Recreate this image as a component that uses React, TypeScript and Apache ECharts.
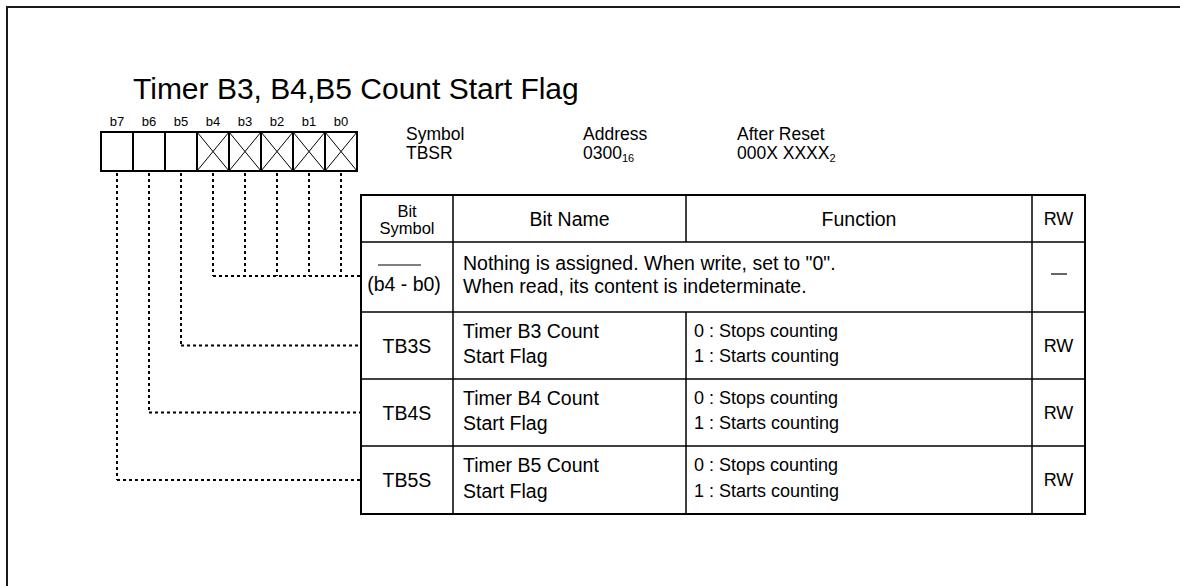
import React, { useEffect, useRef } from "react";
import * as echarts from "echarts";

const TITLE = "Timer B3, B4,B5 Count Start Flag";
const BIT_LABELS = ["b7", "b6", "b5", "b4", "b3", "b2", "b1", "b0"];
const BIT_RESERVED = [false, false, false, true, true, true, true, true];
const BIT_ROW = [3, 2, 1, 0, 0, 0, 0, 0];
const HEADER_LABELS = ["Symbol", "Address", "After Reset"];
const HEADER_VALUES = ["TBSR", "0300", "000X XXXX"];
const HEADER_SUBS = ["", "16", "2"];
const COLUMN_TITLES = [["Bit", "Symbol"], ["Bit Name"], ["Function"], ["RW"]];
const ROW_SYMBOLS = ["(b4 - b0)", "TB3S", "TB4S", "TB5S"];
const ROW_NAMES = [
  ["Nothing is assigned. When write, set to \"0\".", "When read, its content is indeterminate."],
  ["Timer B3 Count", "Start Flag"],
  ["Timer B4 Count", "Start Flag"],
  ["Timer B5 Count", "Start Flag"],
];
const ROW_FUNCTIONS = [
  [],
  ["0 : Stops counting", "1 : Starts counting"],
  ["0 : Stops counting", "1 : Starts counting"],
  ["0 : Stops counting", "1 : Starts counting"],
];
const ROW_RW = ["", "RW", "RW", "RW"];

const FONT = "'Liberation Sans', Arial, Helvetica, sans-serif";

export default function App() {
  const ref = useRef<HTMLDivElement>(null);
  useEffect(() => {
    if (!ref.current) return;
    const chart = echarts.init(ref.current, undefined, { renderer: "svg" });
    const els: any[] = [];
    const txt = (x: number, y: number, text: string, size: number, align = "left") => {
      els.push({
        type: "text",
        x,
        y,
        z: 3,
        style: {
          text,
          fontSize: size,
          fontFamily: FONT,
          fill: "#000",
          align,
          verticalAlign: "middle",
          textAlign: align,
          textVerticalAlign: "middle",
        },
      });
    };
    const line = (x1: number, y1: number, x2: number, y2: number, w = 1.5, dash?: number[], z = 3) => {
      els.push({
        type: "line",
        z,
        shape: { x1, y1, x2, y2 },
        style: { stroke: "#000", lineWidth: w, lineDash: dash },
      });
    };

    // outer frame
    els.push({
      type: "rect",
      shape: { x: 7, y: 7, width: 1300, height: 800 },
      style: { fill: "none", stroke: "#1a1a1a", lineWidth: 2 },
    });

    // title
    txt(133, 88, TITLE, 30);

    // bit boxes
    const bx = 101, by = 132, bw = 32, bh = 39;
    BIT_LABELS.forEach((lab, i) => {
      const x = bx + i * bw;
      txt(x + bw / 2, 121, lab, 13, "center");
      els.push({
        type: "rect",
        shape: { x, y: by, width: bw, height: bh },
        style: { fill: "none", stroke: "#000", lineWidth: 2 },
      });
      if (BIT_RESERVED[i]) {
        line(x, by, x + bw, by + bh, 1);
        line(x + bw, by, x, by + bh, 1);
      }
    });

    // table geometry
    const cols = [361, 453, 686, 1032, 1085];
    const rows = [195, 242, 312, 379, 446, 514];
    const tl = cols[0], tr = cols[cols.length - 1];

    // dotted connectors
    const rowCenter = (r: number) => (rows[r + 1] + rows[r + 2]) / 2;
    const yFor = (r: number) => (r === 0 ? 276 : rowCenter(r));
    BIT_LABELS.forEach((_, i) => {
      const cx = bx + i * bw + bw / 2;
      line(cx, by + bh + 2, cx, yFor(BIT_ROW[i]), 2, [3, 3], 0);
    });
    [0, 1, 2, 3].forEach((r) => {
      const i = BIT_ROW.indexOf(r);
      const cx = bx + i * bw + bw / 2;
      line(cx, yFor(r), tl, yFor(r), 2, [3, 3], 0);
    });

    // header info
    const hx = [406, 583, 737];
    HEADER_LABELS.forEach((lab, i) => {
      txt(hx[i], 134, lab, 17.5);
      els.push({
        type: "text",
        x: hx[i],
        y: 153,
        style: {
          text: `{a|${HEADER_VALUES[i]}}` + (HEADER_SUBS[i] ? `{s|${HEADER_SUBS[i]}}` : ""),
          fontFamily: FONT,
          fill: "#000",
          align: "left",
          verticalAlign: "middle",
          textAlign: "left",
          textVerticalAlign: "middle",
          rich: {
            a: { fontSize: 17.5, lineHeight: 20, fontFamily: FONT, fill: "#000" },
            s: { fontSize: 11, lineHeight: 11, fontFamily: FONT, fill: "#000", verticalAlign: "bottom" },
          },
        },
      });
    });

    // table borders
    els.push({
      type: "rect",
      z: 1,
      shape: { x: tl, y: rows[0], width: tr - tl, height: rows[rows.length - 1] - rows[0] },
      style: { fill: "#fff", stroke: "#000", lineWidth: 2 },
    });
    const last = rows[rows.length - 1];
    for (let r = 1; r < rows.length - 1; r++) line(tl, rows[r], tr, rows[r], 1.5, undefined, 2);
    line(cols[1], rows[0], cols[1], last, 1.5, undefined, 2);
    line(cols[3], rows[0], cols[3], last, 1.5, undefined, 2);
    line(cols[2], rows[0], cols[2], rows[1], 1.5, undefined, 2);
    line(cols[2], rows[2], cols[2], last, 1.5, undefined, 2);

    // column titles
    const hy = (rows[0] + rows[1]) / 2;
    const symX = (cols[0] + cols[1]) / 2;
    txt(symX, 210.5, COLUMN_TITLES[0][0], 16.5, "center");
    txt(symX, 228, COLUMN_TITLES[0][1], 16.5, "center");
    txt((cols[1] + cols[2]) / 2, hy, COLUMN_TITLES[1][0], 19.5, "center");
    txt((cols[2] + cols[3]) / 2, hy, COLUMN_TITLES[2][0], 19.5, "center");
    txt((cols[3] + cols[4]) / 2, hy, COLUMN_TITLES[3][0], 18, "center");

    // rows
    ROW_SYMBOLS.forEach((sym, r) => {
      const cy = rowCenter(r);
      if (r === 0) {
        txt(symX - 3, 284, sym, 19.5, "center");
        line(378, 265, 421, 265, 1);
        txt(cols[1] + 10, 263, ROW_NAMES[r][0], 19.5);
        txt(cols[1] + 10, 286, ROW_NAMES[r][1], 19.5);
        line(1051, 274, 1067, 274, 1.2);
      } else {
        txt(symX, cy, sym, 19.5, "center");
        txt(cols[1] + 10, cy - 15, ROW_NAMES[r][0], 19.5);
        txt(cols[1] + 10, cy + 10.5, ROW_NAMES[r][1], 19.5);
        txt(cols[2] + 8, cy - 15, ROW_FUNCTIONS[r][0], 18);
        txt(cols[2] + 8, cy + 10.5, ROW_FUNCTIONS[r][1], 18);
        txt((cols[3] + cols[4]) / 2, cy, ROW_RW[r], 18, "center");
      }
    });

    chart.setOption({ animation: false, graphic: { elements: els } });
    return () => chart.dispose();
  }, []);
  return (
    <div
      ref={ref}
      style={{ position: "fixed", left: 0, top: 0, width: 1180, height: 586, background: "#fff" }}
    />
  );
}
